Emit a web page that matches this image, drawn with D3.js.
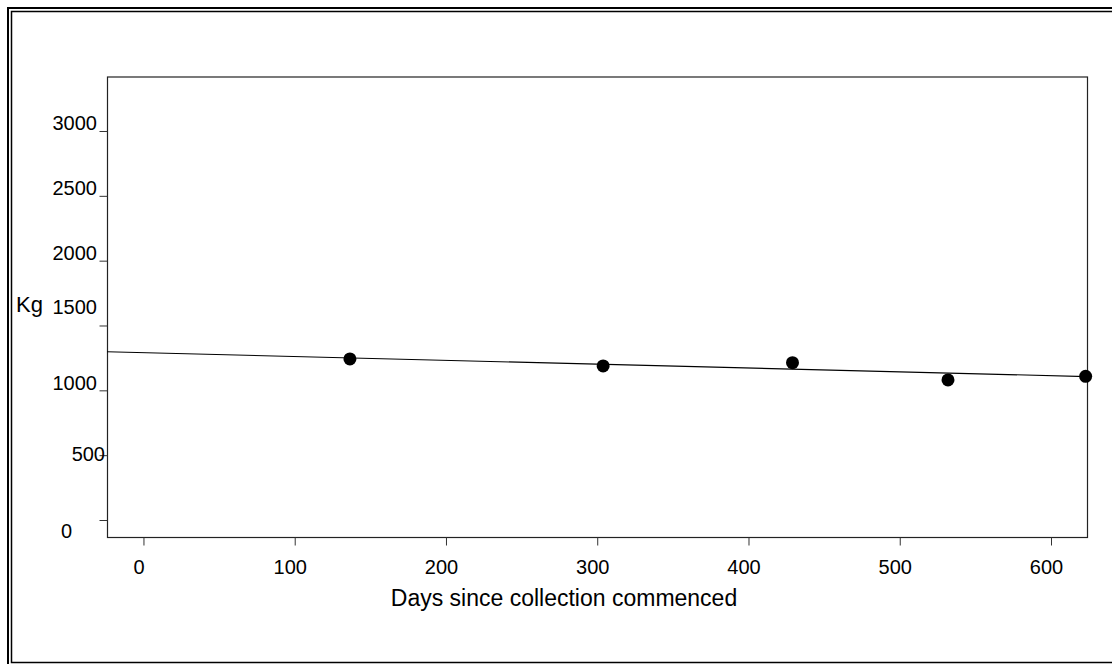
<!DOCTYPE html>
<html>
<head>
<meta charset="utf-8">
<script src="https://cdn.jsdelivr.net/npm/d3@7"></script>
<style>
  body { margin: 0; background: #fff; }
  svg { display: block; font-family: Arial, "Liberation Sans", sans-serif; }
</style>
</head>
<body>
<script>
// data
var days = [136.5, 303.9, 429.1, 531.9, 622.9];
var kg = [1242, 1188, 1213, 1080, 1108];
var fitDays = [-24.1, 623.8];
var fitKg = [1298, 1106];
var xTicks = [0, 100, 200, 300, 400, 500, 600];
var yTicks = [0, 500, 1000, 1500, 2000, 2500, 3000];

var w = 1112, h = 664;
var plotLeft = 107, plotRight = 1087, plotTop = 76.5, plotBottom = 537;

var svg = d3.select("body").append("svg")
	.attr("width", w)
	.attr("height", h);

// double frame round the whole thing
svg.append("rect")
	.attr("x", 8).attr("y", 8)
	.attr("width", 1200).attr("height", 700)
	.attr("fill", "none").attr("stroke", "#000").attr("stroke-width", 2);
svg.append("rect")
	.attr("x", 11.5).attr("y", 11.5)
	.attr("width", 1200).attr("height", 651)
	.attr("fill", "none").attr("stroke", "#000").attr("stroke-width", 1.5);

var x = d3.scaleLinear().domain([-24.1, 623.8]).range([plotLeft, plotRight]);
var y = d3.scaleLinear().domain([-131.1, 3420.3]).range([plotBottom, plotTop]);

// plot box
svg.append("rect")
	.attr("x", plotLeft + 0.5).attr("y", plotTop + 0.5)
	.attr("width", plotRight - plotLeft).attr("height", plotBottom - plotTop)
	.attr("fill", "none").attr("stroke", "#222").attr("stroke-width", 1.2);

// x axis ticks hanging under the box
var xAxis = svg.append("g")
	.attr("transform", "translate(0," + (plotBottom + 0.5) + ")")
	.call(d3.axisBottom(x).tickValues(xTicks).tickFormat(d3.format("d")).tickSize(8).tickSizeOuter(0));
xAxis.select(".domain").remove();
xAxis.selectAll("line").attr("stroke", "#333");
xAxis.selectAll("text")
	.attr("font-size", "20px").attr("fill", "#000")
	.attr("dx", -5).attr("y", 22)
	.attr("font-family", "Arial, 'Liberation Sans', sans-serif");

// y axis ticks, labels sit a bit off in the original
var yAxis = svg.append("g")
	.attr("transform", "translate(" + (plotLeft + 0.5) + ",0)")
	.call(d3.axisLeft(y).tickValues(yTicks).tickFormat(d3.format("d")).tickSize(8).tickSizeOuter(0));
yAxis.select(".domain").remove();
yAxis.selectAll("line").attr("stroke", "#333");

var labelShift = {0: [-25, 10], 500: [8, -2], 1000: [0, -8], 1500: [0, -19], 2000: [0, -8], 2500: [0, -8], 3000: [0, -8]};
yAxis.selectAll("text")
	.attr("font-size", "20px").attr("fill", "#000")
	.attr("font-family", "Arial, 'Liberation Sans', sans-serif")
	.attr("x", function(d) { return -10.5 + labelShift[d][0]; })
	.attr("dy", function(d) { return (labelShift[d][1] + 7) + "px"; });

// axis titles
svg.append("text")
	.attr("x", 16).attr("y", 312)
	.attr("font-size", "22px")
	.text("Kg");

svg.append("text")
	.attr("x", 564).attr("y", 606)
	.attr("text-anchor", "middle")
	.attr("font-size", "23px")
	.text("Days since collection commenced");

// fitted line
svg.append("line")
	.attr("x1", x(fitDays[0])).attr("y1", y(fitKg[0]))
	.attr("x2", x(fitDays[1])).attr("y2", y(fitKg[1]))
	.attr("stroke", "#000").attr("stroke-width", 1.1);

// points
svg.selectAll(".pt")
	.data(days)
	.enter()
	.append("circle")
	.attr("class", "pt")
	.attr("cx", function(d) { return x(d); })
	.attr("cy", function(d, i) { return y(kg[i]); })
	.attr("r", 6.5)
	.attr("fill", "#000");
</script>
</body>
</html>
